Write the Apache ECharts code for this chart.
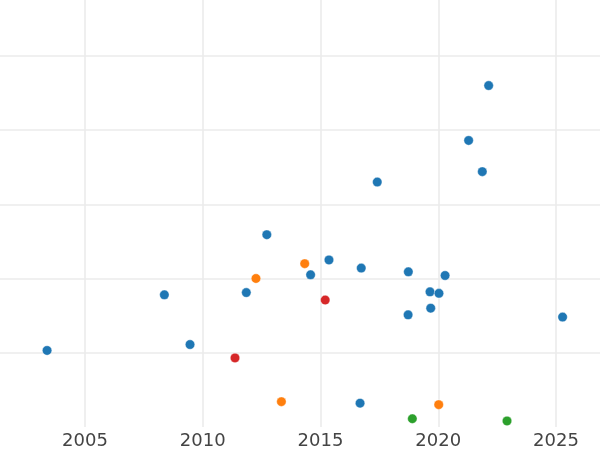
<!DOCTYPE html>
<html>
<head>
<meta charset="utf-8">
<script src="https://cdn.jsdelivr.net/npm/echarts@6/dist/echarts.min.js"></script>
<style>html,body{margin:0;padding:0;background:#fff}#c{width:600px;height:450px}</style>
</head>
<body>
<div id="c"></div>
<script>
// Data: [year, value]
const blueX = [2022.14, 2021.29, 2021.87, 2017.41, 2012.72, 2008.37, 2011.85, 2003.39, 2009.46, 2015.36, 2014.58, 2016.73, 2018.73, 2020.29, 2019.65, 2020.03, 2019.68, 2018.72, 2025.28, 2016.68];
const blueY = [4.60, 3.86, 3.44, 3.30, 2.59, 1.78, 1.81, 1.03, 1.11, 2.25, 2.05, 2.14, 2.09, 2.04, 1.82, 1.80, 1.60, 1.51, 1.48, 0.32];
const orangeX = [2012.26, 2013.34, 2014.33, 2020.02];
const orangeY = [2.00, 0.34, 2.20, 0.30];
const redX = [2011.37, 2015.20];
const redY = [0.93, 1.71];
const greenX = [2018.90, 2022.92];
const greenY = [0.11, 0.08];
const xTicks = [2005, 2010, 2015, 2020, 2025];

const zip = (xs, ys) => xs.map((x, i) => [x, ys[i]]);
const mk = (name, xs, ys, color) => ({
  name, type: 'scatter', data: zip(xs, ys), symbolSize: 9.5,
  itemStyle: { color, opacity: 1, borderColor: '#ffffff', borderWidth: 0.4 },
  emphasis: { disabled: true }
});

const chart = echarts.init(document.getElementById('c'), null, { renderer: 'canvas' });
chart.setOption({
  animation: false,
  backgroundColor: '#ffffff',
  grid: { left: 0, right: 0, top: 0, bottom: 23.1, containLabel: false },
  xAxis: {
    type: 'value', min: 2001.391, max: 2026.868, splitNumber: 5,
    axisLine: { show: false }, axisTick: { show: false },
    axisLabel: {
      fontFamily: 'DejaVu Sans', fontSize: 18, color: '#444444', margin: 5,
      showMinLabel: false, showMaxLabel: false,
      formatter: v => (xTicks.indexOf(v) >= 0 ? String(v) : '')
    },
    splitLine: { show: true, showMinLine: false, showMaxLine: false, lineStyle: { color: '#ebebeb', width: 1.6 } }
  },
  yAxis: {
    type: 'value', min: 0, max: 5.753, splitNumber: 5,
    axisLine: { show: false }, axisTick: { show: false }, axisLabel: { show: false },
    splitLine: { show: true, showMinLine: false, showMaxLine: false, lineStyle: { color: '#ebebeb', width: 1.6 } }
  },
  series: [
    mk('blue', blueX, blueY, '#1f77b4'),
    mk('orange', orangeX, orangeY, '#ff7f0e'),
    mk('red', redX, redY, '#d62728'),
    mk('green', greenX, greenY, '#2ca02c')
  ]
});
</script>
</body>
</html>
